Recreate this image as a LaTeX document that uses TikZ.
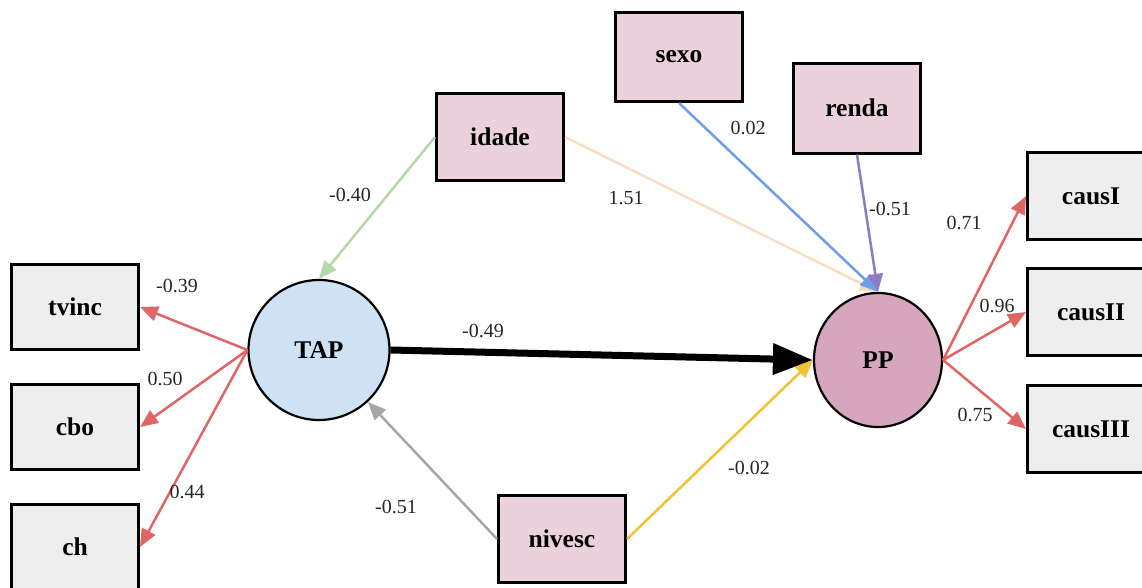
\documentclass[tikz,border=0pt]{standalone}
\usepackage{fontspec}
\setmainfont{Liberation Serif}
\usetikzlibrary{arrows.meta,shapes.geometric}

\definecolor{exo}{HTML}{EAD1DC}
\definecolor{indic}{HTML}{EEEEEE}
\definecolor{tapfill}{HTML}{CFE2F3}
\definecolor{ppfill}{HTML}{D5A6BD}
\definecolor{loadred}{HTML}{E06666}
\definecolor{pathgreen}{HTML}{B6D7A8}
\definecolor{pathpeach}{HTML}{FBDDBE}
\definecolor{pathblue}{HTML}{6D9EEB}
\definecolor{pathpurple}{HTML}{8E7CC3}
\definecolor{pathgray}{HTML}{A6A6A6}
\definecolor{pathyellow}{HTML}{F1C232}

\tikzset{
  varbox/.style={draw=black, line width=3pt, rectangle, minimum width=127pt,
    minimum height=87pt, inner sep=0pt, font=\fontsize{25.5}{27}\selectfont\bfseries},
  exobox/.style={varbox, fill=exo},
  indbox/.style={varbox, fill=indic},
  latent/.style={draw=black, line width=2.2pt, ellipse, inner sep=0pt,
    font=\fontsize{25.5}{27}\selectfont\bfseries},
  coef/.style={font=\fontsize{20}{22}\selectfont, inner sep=0pt, text=black!85},
  pathline/.style={line width=2.5pt, -{Triangle[length=18pt,width=15pt]}},
}

\begin{document}
\begin{tikzpicture}[x=1pt, y=-1pt]
  \useasboundingbox (0,0) rectangle (1142,587);

  % latent variables
  \node[latent, fill=tapfill, minimum width=141pt, minimum height=140pt] (TAP) at (319,350) {TAP};
  \node[latent, fill=ppfill, minimum width=128pt, minimum height=134pt] (PP) at (878,360) {PP};

  % observed predictors
  \node[exobox] (idade)  at (500,137) {idade};
  \node[exobox, minimum height=89pt] (sexo) at (679,57) {sexo};
  \node[exobox, minimum height=90pt] (renda) at (857,108) {renda};
  \node[exobox] (nivesc) at (562,539) {nivesc};

  % indicators of TAP
  \node[indbox, minimum height=85pt] (tvinc) at (75,307) {tvinc};
  \node[indbox, minimum height=85pt] (cbo)   at (75,427) {cbo};
  \node[indbox, minimum height=85pt] (ch)    at (75,547) {ch};

  % indicators of PP
  \node[indbox] (causI)   at (1091,196) {causI};
  \node[indbox] (causII)  at (1091,312) {causII};
  \node[indbox] (causIII) at (1091,429) {causIII};

  % measurement paths
  \draw[pathline, loadred] (TAP.west) -- (tvinc.east);
  \draw[pathline, loadred] (TAP.west) -- (cbo.east);
  \draw[pathline, loadred] (TAP.west) -- (ch.east);
  \draw[pathline, loadred] (PP.east) -- (causI.west);
  \draw[pathline, loadred] (PP.east) -- (causII.west);
  \draw[pathline, loadred] (PP.east) -- (causIII.west);

  % structural paths
  \draw[pathline, pathgreen]  (idade.west) -- (TAP.north);
  \draw[pathline, pathgray]   (nivesc.west) -- (TAP);
  \draw[pathline, pathpeach]  (idade.east) -- (PP.north);
  \draw[pathline, pathblue]   (sexo.south) -- (PP.north);
  \draw[pathline, pathpurple] (renda.south) -- (PP.north);
  \draw[pathline, pathyellow] (nivesc.east) -- (PP.west);
  \draw[line width=7pt, -{Triangle[length=40pt,width=30pt]}] (TAP.east) -- (PP.west);

  % coefficients
  \node[coef] (c1)  at (177,286) {-0.39};
  \node[coef] (c2)  at (165,379) {0.50};
  \node[coef] (c3)  at (187,492) {0.44};
  \node[coef] (c4)  at (350,195) {-0.40};
  \node[coef] (c5)  at (626,198) {1.51};
  \node[coef] (c6)  at (748,128) {0.02};
  \node[coef] (c7)  at (890,209) {-0.51};
  \node[coef] (c8)  at (964,223) {0.71};
  \node[coef] (c9)  at (997,306) {0.96};
  \node[coef] (c10) at (975,415) {0.75};
  \node[coef] (c11) at (483,331) {-0.49};
  \node[coef] (c12) at (396,507) {-0.51};
  \node[coef] (c13) at (749,468) {-0.02};
\end{tikzpicture}
\end{document}
